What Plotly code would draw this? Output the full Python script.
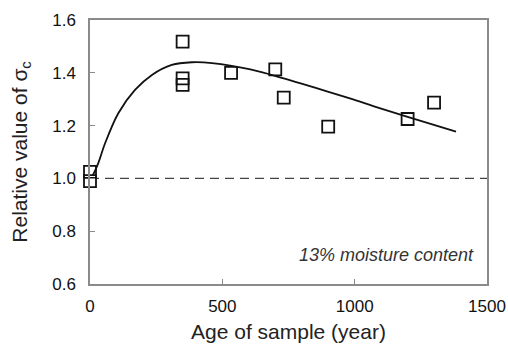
import plotly.graph_objects as go

# Measured samples: age (years) and relative compressive strength
age = [0, 0, 350, 350, 350, 533, 700, 732, 900, 1200, 1300]
rel_value = [1.025, 0.99, 1.518, 1.379, 1.354, 1.40, 1.413, 1.306, 1.196, 1.225, 1.287]

# Fitted trend curve
fit_age = [10, 31, 57, 107, 170, 234, 309, 385, 461, 606, 732, 859, 985, 1073, 1200, 1383]
fit_value = [1.01, 1.057, 1.133, 1.247, 1.335, 1.392, 1.430, 1.440, 1.437, 1.413,
             1.379, 1.341, 1.302, 1.273, 1.233, 1.177]

# Reference level
ref_age = [0, 1500]
ref_value = [1.0, 1.0]

x_ticks = [0, 500, 1000, 1500]
y_ticks = [0.6, 0.8, 1.0, 1.2, 1.4, 1.6]

FONT = "Liberation Sans, Arial, sans-serif"

fig = go.Figure()
fig.add_trace(go.Scatter(
    x=ref_age, y=ref_value, mode="lines",
    line=dict(color="#444444", width=1.3, dash="9px,6px"),
    hoverinfo="skip", showlegend=False, cliponaxis=False,
))
fig.add_trace(go.Scatter(
    x=fit_age, y=fit_value, mode="lines", line_shape="spline",
    line=dict(color="#111111", width=1.8),
    showlegend=False,
))
fig.add_trace(go.Scatter(
    x=age, y=rel_value, mode="markers",
    marker=dict(symbol="square-open", size=12, color="#111111",
                line=dict(width=1.8, color="#111111")),
    showlegend=False, cliponaxis=False,
))

fig.add_annotation(
    x=0.972, y=0.11, xref="paper", yref="paper", xanchor="right", yanchor="middle",
    text="<i>13% moisture content</i>", showarrow=False,
    font=dict(family=FONT, size=18, color="#333333"),
)

axis_common = dict(
    showline=True, linecolor="#8a8a8a", linewidth=1.5, mirror=True,
    ticks="inside", ticklen=5, tickcolor="#8a8a8a", tickwidth=1,
    showgrid=False, zeroline=False, automargin=False,
    tickfont=dict(family=FONT, size=17, color="#111111"),
)

fig.update_xaxes(
    range=[0, 1500], tickvals=x_ticks, ticktext=[str(v) for v in x_ticks],
    ticklabelstandoff=6,
    title=dict(text="Age of sample (year)", standoff=9,
               font=dict(family=FONT, size=21, color="#222222")),
    **axis_common,
)
fig.update_yaxes(
    range=[0.6, 1.6], tickvals=y_ticks, ticktext=[f"{v:.1f}" for v in y_ticks],
    ticklabelstandoff=9,
    title=dict(text="Relative value of σ<sub>c</sub>", standoff=19,
               font=dict(family=FONT, size=21, color="#222222")),
    **axis_common,
)

fig.update_layout(
    width=508, height=345,
    margin=dict(l=90, r=21, t=20, b=61),
    paper_bgcolor="white", plot_bgcolor="white",
)

fig.write_html("out.html")
